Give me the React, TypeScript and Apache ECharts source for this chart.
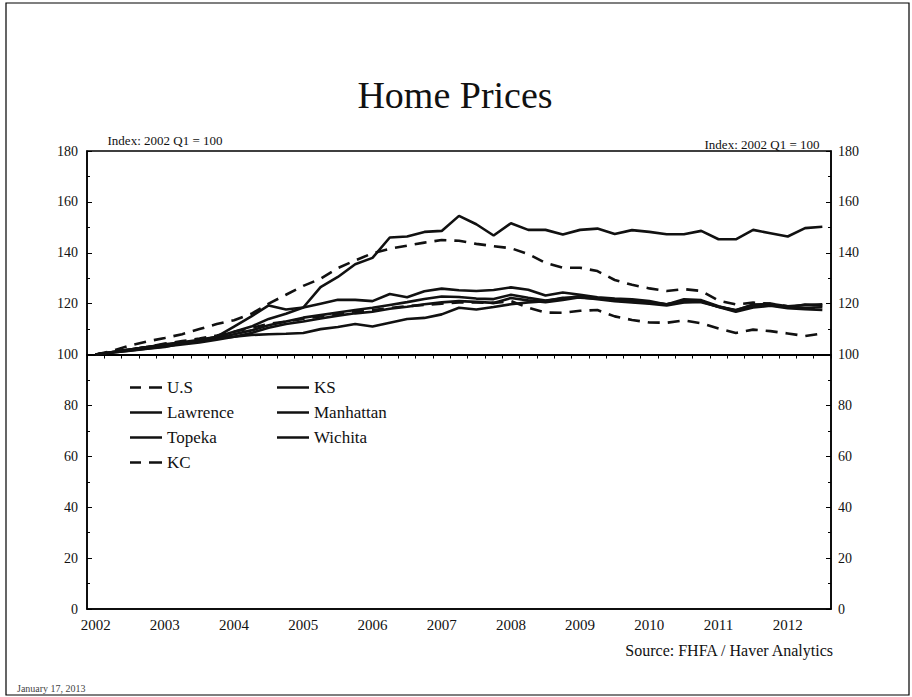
import React, { useEffect, useRef } from "react";
import * as echarts from "echarts";

const years = ["2002", "2003", "2004", "2005", "2006", "2007", "2008", "2009", "2010", "2011", "2012"];
const quarterNames = ["Q1", "Q2", "Q3", "Q4"];
const quarterCount = 43; // 2002Q1 .. 2012Q3

const usValues = [100, 101.5, 103.6, 105.2, 106.5, 108, 110, 112, 113.5, 116, 120, 123.5, 127, 129.8, 134, 137, 139.8, 141.6, 142.8, 144, 145, 144.7, 143.5, 142.6, 141.8, 139.5, 136, 134.1, 134.1, 132.8, 129.3, 127.4, 126, 125, 125.7, 125, 121.2, 119.7, 120.4, 120, 119, 118, 118.5];
const ksValues = [100, 100.8, 101.6, 102.4, 103.2, 104, 104.8, 105.8, 107, 108.5, 110.5, 112, 113, 114.2, 115.3, 116.2, 116.8, 118, 118.8, 119.8, 120.5, 121, 120.7, 120.3, 122.2, 121.3, 120.6, 121.5, 122.5, 121.8, 121, 120.5, 120, 119.3, 120.5, 120.8, 118.7, 116.8, 118.5, 119.2, 118.2, 117.8, 117.5];
const lawrenceValues = [100, 101, 102, 103, 104, 104.8, 105.8, 107, 109, 111, 114, 116, 118.5, 120, 121.5, 121.5, 121, 123.8, 122.5, 124.9, 125.9, 125.3, 125, 125.4, 126.4, 125.5, 123.2, 124.4, 123.5, 122.5, 122, 121.7, 121, 119.7, 121.7, 121.4, 119, 117.3, 119.7, 119.7, 118.5, 119.7, 119.3];
const manhattanValues = [100, 101, 102, 103, 103.8, 104.5, 105.5, 107, 111, 115, 119.3, 117.7, 118.5, 126.5, 130.5, 135.5, 138, 146, 146.4, 148.2, 148.6, 154.5, 151.2, 146.8, 151.6, 149, 149, 147.2, 149, 149.5, 147.4, 148.9, 148.2, 147.3, 147.3, 148.6, 145.3, 145.3, 149, 147.7, 146.4, 149.7, 150.2];
const topekaValues = [100, 101, 102, 103, 103.8, 104.5, 105.5, 106.5, 108, 109.5, 111.5, 113, 114.5, 115.5, 116.5, 117.5, 118.4, 119.5, 120.6, 121.8, 122.8, 122.6, 122, 121.8, 123.5, 122.3, 121.2, 122, 123, 122.2, 121.6, 121.2, 120.5, 119.8, 121, 121, 118.8, 117.5, 119.5, 120, 119, 119.5, 119.8];
const wichitaValues = [100, 100.8, 101.5, 102.3, 103, 104.5, 105.5, 106.3, 107, 107.7, 108, 108.2, 108.5, 110, 110.8, 112, 111, 112.5, 114, 114.4, 115.8, 118.4, 117.7, 118.7, 119.8, 120.5, 121, 122.3, 122.3, 122, 121.3, 120.8, 120.3, 119.8, 120.8, 120.6, 118.8, 117.2, 119, 119.4, 118.6, 118.4, 118.6];
const kcValues = [100, 101, 102, 103, 104.3, 105.3, 106.3, 107.5, 109, 110.5, 112, 113, 114, 115, 116, 117, 117.5, 118.3, 119, 119.5, 120, 120.5, 120.5, 120.3, 121, 118.4, 116.5, 116.4, 117.2, 117.5, 115, 113.6, 112.6, 112.5, 113.4, 112.3, 110.2, 108.5, 109.8, 109.2, 108.3, 107.3, 108.3];

const leftLegend = ["U.S", "Lawrence", "Topeka", "KC"];
const rightLegend = ["KS", "Manhattan", "Wichita"];
const dashedNames = ["U.S", "KC"];

const SERIF = "'Liberation Serif', 'DejaVu Serif', serif";
const SOLID_ICON = "path://M0,0h32v2.5h-32z";
const DASH_ICON = "path://M0,0h11v2.5h-11z M19,0h13v2.5h-13z";

const categories: string[] = [];
years.forEach((y) => quarterNames.forEach((q) => categories.push(y + q)));
const quarters = categories.slice(0, quarterCount);

export default function App() {
  const ref = useRef<HTMLDivElement>(null);
  useEffect(() => {
    if (!ref.current) return;
    const chart = echarts.init(ref.current, null, { renderer: "svg" });
    const solid = { color: "#111", width: 2.6, type: "solid" as const };
    const dashed = { color: "#111", width: 2.6, type: [12, 8] as any };
    const mk = (name: string, data: number[], ls: any) => ({
      name,
      type: "line",
      data,
      xAxisIndex: 0,
      yAxisIndex: 0,
      symbol: "none",
      smooth: false,
      lineStyle: ls,
      itemStyle: { color: "#111" },
      emphasis: { disabled: true },
    });
    const legendItems = (names: string[]) =>
      names.map((n) => ({ name: n, icon: dashedNames.includes(n) ? DASH_ICON : SOLID_ICON }));
    const yAxisBase = {
      type: "value",
      min: 0,
      max: 180,
      interval: 20,
      splitLine: { show: false },
      axisLine: { show: true, lineStyle: { color: "#000", width: 1.5 } },
      axisTick: { show: true, inside: true, length: 5, lineStyle: { color: "#000" } },
      minorTick: { show: true, splitNumber: 2, length: 3, lineStyle: { color: "#000" } },
      axisLabel: { color: "#111", fontFamily: SERIF, fontSize: 14 },
    };
    const legendBase = {
      orient: "vertical",
      top: 374,
      itemWidth: 32,
      itemHeight: 2.5,
      itemGap: 8,
      textStyle: { color: "#111", fontFamily: SERIF, fontSize: 17, lineHeight: 17 },
      selectedMode: false,
    };
    chart.setOption({
      animation: false,
      backgroundColor: "#fff",
      grid: {
        left: 87,
        right: 81,
        top: 151,
        bottom: 88,
        show: true,
        borderColor: "#000",
        borderWidth: 1.5,
        containLabel: false,
      },
      xAxis: [
        {
          type: "category",
          data: quarters,
          boundaryGap: true,
          position: "bottom",
          axisLine: { show: true, onZero: false, lineStyle: { color: "#000", width: 1.5 } },
          axisTick: { show: false },
          axisLabel: {
            interval: (idx: number) => idx % 4 === 0,
            formatter: (v: string) => v.slice(0, 4),
            color: "#111",
            fontFamily: SERIF,
            fontSize: 15,
            margin: 8,
          },
          splitLine: { show: false },
        },
        {
          type: "category",
          data: quarters,
          boundaryGap: true,
          position: "bottom",
          axisLine: { show: true, onZero: true, onZeroAxisIndex: 2, lineStyle: { color: "#000", width: 2 } },
          axisTick: { show: true, interval: 0, length: 4, lineStyle: { color: "#000" } },
          axisLabel: { show: false },
          splitLine: { show: false },
        },
      ],
      yAxis: [
        { ...yAxisBase, position: "left", axisLabel: { ...yAxisBase.axisLabel, margin: 9 } },
        { ...yAxisBase, position: "right", axisLabel: { ...yAxisBase.axisLabel, margin: 7 } },
        { type: "value", min: -100, max: 80, show: false },
      ],
      legend: [
        { ...legendBase, left: 125, data: legendItems(leftLegend) },
        { ...legendBase, left: 272, data: legendItems(rightLegend) },
      ],
      series: [
        mk("KS", ksValues, solid),
        mk("Lawrence", lawrenceValues, solid),
        mk("Topeka", topekaValues, solid),
        mk("Wichita", wichitaValues, solid),
        mk("Manhattan", manhattanValues, solid),
        mk("KC", kcValues, dashed),
        mk("U.S", usValues, dashed),
      ],
      graphic: [
        {
          type: "rect",
          shape: { x: 6, y: 3, width: 903, height: 692 },
          style: { fill: "none", stroke: "#000", lineWidth: 1.2 },
          silent: true,
        },
        {
          type: "text",
          x: 455,
          y: 95,
          style: {
            text: "Home Prices",
            font: `38px ${SERIF}`,
            fill: "#111",
            textAlign: "center",
            textVerticalAlign: "middle",
          },
        },
        {
          type: "text",
          x: 165,
          y: 140,
          style: {
            text: "Index: 2002 Q1 = 100",
            font: `13px ${SERIF}`,
            fill: "#111",
            textAlign: "center",
            textVerticalAlign: "middle",
          },
        },
        {
          type: "text",
          x: 762,
          y: 144,
          style: {
            text: "Index: 2002 Q1 = 100",
            font: `13px ${SERIF}`,
            fill: "#111",
            textAlign: "center",
            textVerticalAlign: "middle",
          },
        },
        {
          type: "text",
          x: 833,
          y: 650,
          style: {
            text: "Source: FHFA / Haver Analytics",
            font: `16px ${SERIF}`,
            fill: "#111",
            textAlign: "right",
            textVerticalAlign: "middle",
          },
        },
        {
          type: "text",
          x: 17,
          y: 688,
          style: {
            text: "January 17, 2013",
            font: `10px ${SERIF}`,
            fill: "#444",
            textAlign: "left",
            textVerticalAlign: "middle",
          },
        },
      ],
    });
    return () => chart.dispose();
  }, []);
  return (
    <div
      ref={ref}
      style={{ position: "fixed", left: 0, top: 0, width: 912, height: 697, background: "#fff" }}
    />
  );
}
